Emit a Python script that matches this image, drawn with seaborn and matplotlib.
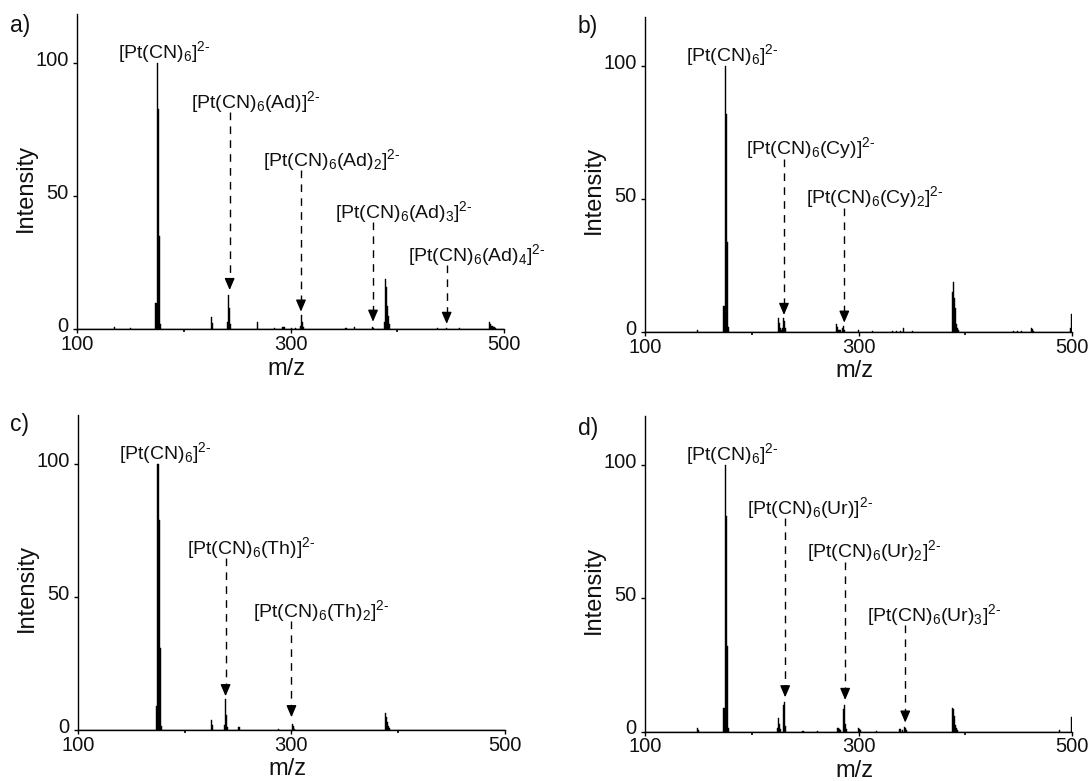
import numpy as np
import pandas as pd
import matplotlib
matplotlib.use("Agg")
import matplotlib.pyplot as plt
import matplotlib.transforms as mtransforms
import seaborn as sns

sns.set_theme(style="ticks")
plt.rcParams["font.family"] = ["Liberation Sans", "DejaVu Sans"]
plt.rcParams["mathtext.fontset"] = "custom"
plt.rcParams["mathtext.rm"] = "Liberation Sans"
plt.rcParams["mathtext.it"] = "Liberation Sans:italic"
plt.rcParams["mathtext.bf"] = "Liberation Sans:bold"
plt.rcParams["mathtext.sf"] = "Liberation Sans"

# ---------------- data ----------------
x_ticks = [100, 300, 500]
y_ticks = [0, 50, 100]

# panel a : adenine
a_mz = [135, 150, 174, 175, 176, 177, 178, 226, 227, 241, 242, 243, 244,
        269, 285, 293, 294, 301, 305, 309, 310, 311, 312, 352, 360, 377,
        378, 388, 389, 390, 391, 392, 393, 438, 446, 458, 486, 487, 488,
        489, 490, 491, 492]
a_int = [0.8, 0.4, 10, 100, 83, 35, 2, 4.8, 2.5, 3, 13, 8, 2,
         3, 0.5, 1, 0.8, 0.6, 0.5, 1.5, 5.5, 3, 1, 0.4, 0.8, 1,
         0.6, 3, 19, 16, 9, 5, 2, 0.5, 0.6, 0.5, 2.7, 2.2, 1.5,
         1.2, 1, 0.8, 0.5]
a_ann_x = [243.0, 309.8, 377.3, 446.3]
a_ann_top = [81.6, 59.8, 40.4, 24.2]
a_ann_tip = [14.8, 6.7, 2.9, 2.1]
a_ann_lab = [r"[Pt(CN)$_6$(Ad)]$^{2\text{-}}$",
             r"[Pt(CN)$_6$(Ad)$_2$]$^{2\text{-}}$",
             r"[Pt(CN)$_6$(Ad)$_3$]$^{2\text{-}}$",
             r"[Pt(CN)$_6$(Ad)$_4$]$^{2\text{-}}$"]

# panel b : cytosine
b_mz = [149, 174, 175, 176, 177, 178, 225, 226, 227, 228, 229, 230, 231,
        232, 279, 280, 281, 282, 283, 285, 286, 287, 300, 313, 332, 336,
        339, 342, 351, 388, 389, 390, 391, 392, 393, 394, 426, 445, 449,
        453, 462, 463, 464, 490, 499, 500]
b_int = [0.9, 10, 100, 82, 34, 2, 5.3, 3.5, 1.5, 1.0, 1.5, 5.2, 4.3,
         1.5, 3, 2, 1, 1, 1, 1.5, 2.5, 1, 1, 0.4, 0.5, 0.5,
         0.6, 1.5, 0.4, 15, 19, 13, 9, 3, 1.5, 1, 0.3, 0.5, 0.5,
         0.5, 1.7, 1.2, 0.6, 0.3, 1.5, 7]
b_ann_x = [230.2, 286.7]
b_ann_top = [65.2, 46.8]
b_ann_tip = [6.5, 3.6]
b_ann_lab = [r"[Pt(CN)$_6$(Cy)]$^{2\text{-}}$",
             r"[Pt(CN)$_6$(Cy)$_2$]$^{2\text{-}}$"]

# panel c : thymine
c_mz = [174, 175, 176, 177, 178, 225, 226, 237, 238, 239, 240, 251, 288,
        301, 302, 303, 388, 389, 390, 391, 392]
c_int = [9, 100, 79, 31, 1.5, 3.8, 2, 2, 11.5, 5.5, 1, 1, 0.5,
         2.3, 1.5, 0.5, 6.3, 5, 3, 1.5, 0.8]
c_ann_x = [238.4, 300.2]
c_ann_top = [64.6, 41.0]
c_ann_tip = [12.7, 4.8]
c_ann_lab = [r"[Pt(CN)$_6$(Th)]$^{2\text{-}}$",
             r"[Pt(CN)$_6$(Th)$_2$]$^{2\text{-}}$"]

# panel d : uracil
d_mz = [149, 150, 174, 175, 176, 177, 178, 224, 225, 226, 227, 230, 231,
        232, 248, 262, 280, 281, 282, 283, 286, 287, 288, 289, 300, 301,
        302, 317, 338, 339, 341, 343, 344, 345, 388, 389, 390, 391, 392,
        393, 488, 500]
d_int = [1.5, 0.8, 9, 100, 81, 32, 1.5, 1.5, 5, 3, 1, 10, 11,
         2, 0.3, 0.3, 1.5, 1.5, 1, 0.8, 8.5, 10, 3, 1, 1.4, 1,
         0.5, 0.4, 1.2, 1, 0.8, 1.9, 1.5, 0.5, 9, 8.5, 6, 2.5, 1.5,
         0.8, 0.5, 5.5]
d_ann_x = [231.3, 287.5, 343.8]
d_ann_top = [80.2, 63.8, 40.0]
d_ann_tip = [12.9, 11.9, 3.4]
d_ann_lab = [r"[Pt(CN)$_6$(Ur)]$^{2\text{-}}$",
             r"[Pt(CN)$_6$(Ur)$_2$]$^{2\text{-}}$",
             r"[Pt(CN)$_6$(Ur)$_3$]$^{2\text{-}}$"]

main_label = r"[Pt(CN)$_6$]$^{2\text{-}}$"
main_x = 175
main_y = 100.4
panel_letters = ["a)", "b)", "c)", "d)"]

# ---------------- figure ----------------
fig = plt.figure(figsize=(10.9, 7.81), dpi=100)
W, H = 1090.0, 781.0
# axes rectangles in pixels: (left, bottom_px, right, top_px)
rects_px = [(77, 329.5, 504, 14), (645, 332.3, 1072, 16.7),
            (78, 730, 504.5, 415), (645, 731.7, 1072, 416)]
letter_px = [(10, 32), (578, 33), (10, 431.5), (578, 435)]

panels = [
    (a_mz, a_int, a_ann_x, a_ann_top, a_ann_tip, a_ann_lab),
    (b_mz, b_int, b_ann_x, b_ann_top, b_ann_tip, b_ann_lab),
    (c_mz, c_int, c_ann_x, c_ann_top, c_ann_tip, c_ann_lab),
    (d_mz, d_int, d_ann_x, d_ann_top, d_ann_tip, d_ann_lab),
]

TXT = "#111111"
lift = mtransforms.ScaledTranslation(0, 3.5 / 72, fig.dpi_scale_trans)

for i, (mz, inten, ax_x, ax_top, ax_tip, ax_lab) in enumerate(panels):
    l, b, r, t = rects_px[i]
    ax = fig.add_axes([l / W, 1 - b / H, (r - l) / W, (b - t) / H])
    df = pd.DataFrame({"mz": mz, "intensity": inten})
    sns.histplot(data=df, x="mz", weights="intensity", binwidth=1,
                 binrange=(99.5, 500.5), element="bars", color="black",
                 edgecolor="black", linewidth=0.3, alpha=1.0, ax=ax)
    ax.set_xlim(100, 500)
    ax.set_ylim(0, 118.5)
    ax.set_xticks(x_ticks)
    ax.set_xticks([200, 400], minor=True)
    ax.set_yticks(y_ticks)
    ax.tick_params(axis="both", which="major", direction="out", length=3,
                   width=1, labelsize=14.5, colors="black", labelcolor=TXT,
                   pad=3)
    ax.tick_params(axis="x", which="major", pad=1)
    ax.tick_params(axis="x", which="minor", direction="out", length=2,
                   width=1.2, colors="black")
    for tk in ax.yaxis.get_major_ticks():
        tk.label1.set_transform(tk.label1.get_transform() + lift)
    sns.despine(ax=ax)
    for s in ("left", "bottom"):
        ax.spines[s].set_linewidth(1.0)
        ax.spines[s].set_color("black")
    ax.set_xlabel("m/z", fontsize=17, color=TXT, labelpad=2.5, x=0.49)
    ax.set_ylabel("Intensity", fontsize=17, color=TXT, labelpad=-1, y=0.45)

    # main peak label
    ax.annotate(main_label, xy=(main_x, main_y), xytext=(-28, 3),
                textcoords="offset points", ha="left", va="baseline",
                fontsize=14, color=TXT)
    # adduct labels with dashed arrows
    for xv, top, tip, lab in zip(ax_x, ax_top, ax_tip, ax_lab):
        ax.annotate(lab, xy=(xv, top), xytext=(-27.5, 3),
                    textcoords="offset points", ha="left", va="baseline",
                    fontsize=14, color=TXT)
        head = 3.5
        ax.plot([xv, xv], [top, tip + head * 0.7], color="black", lw=1.0,
                linestyle=(0, (5.5, 4.5)), solid_capstyle="butt")
        ax.annotate("", xy=(xv, tip), xytext=(xv, tip + head),
                    arrowprops=dict(arrowstyle="-|>,head_length=0.7,head_width=0.3",
                                    mutation_scale=10,
                                    color="black", lw=1.0, shrinkA=0, shrinkB=0))

    lx, ly = letter_px[i]
    fig.text(lx / W, 1 - ly / H, panel_letters[i], fontsize=16.5, color=TXT,
             ha="left", va="baseline")

fig.savefig("out.png", dpi=100)
